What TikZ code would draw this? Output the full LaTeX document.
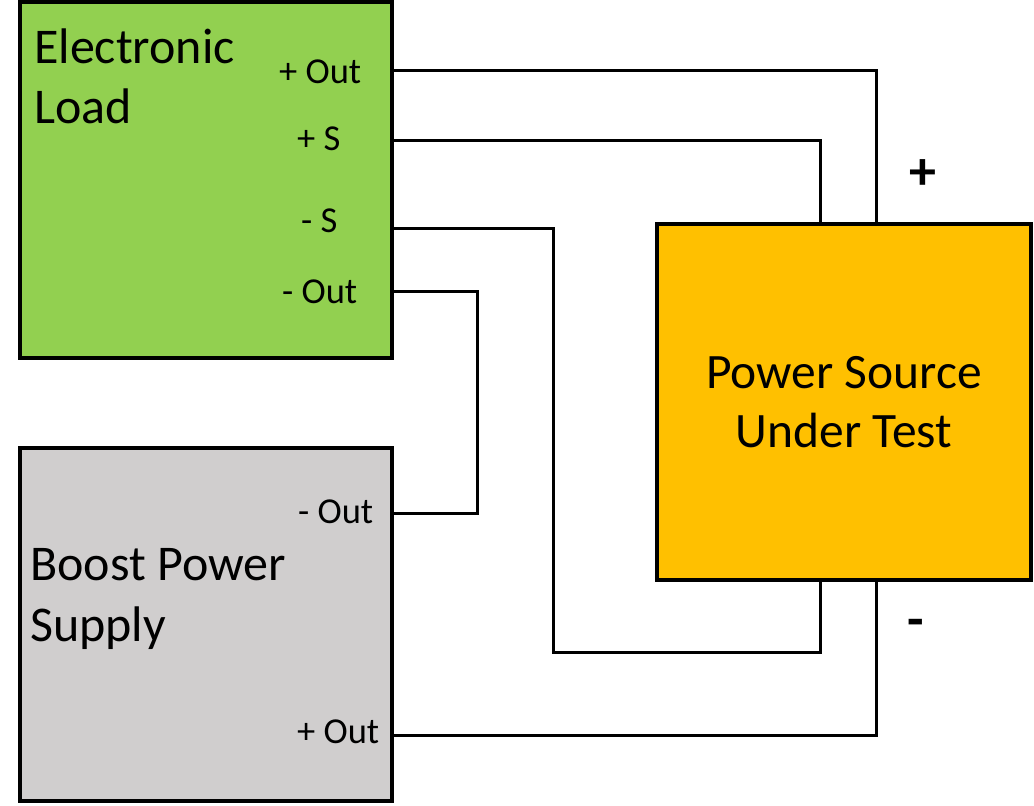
\documentclass[tikz,border=0pt]{standalone}
\usepackage{fontspec}
\setmainfont{Carlito}
\definecolor{loadgreen}{HTML}{92D050}
\definecolor{boostgray}{HTML}{D0CECE}
\definecolor{dutorange}{HTML}{FFC000}
\tikzset{
  unit/.style={rectangle,draw,line width=4pt,inner sep=0pt,outer sep=0pt},
  title/.style={inner sep=0pt,align=left,anchor=base west,font=\fontsize{50}{60}\selectfont},
  port/.style={inner sep=0pt,anchor=base west,font=\fontsize{36.5}{42}\selectfont},
  sign/.style={inner sep=0pt,font=\fontsize{54}{60}\selectfont\bfseries},
  wire/.style={line width=3pt}
}
\begin{document}
\begin{tikzpicture}[x=1pt,y=-1pt]
    \useasboundingbox (0,0) rectangle (1034,806);
    % units
    \node[unit,fill=loadgreen,minimum width=372pt,minimum height=356pt] (load) at (206,180) {};
    \node[unit,fill=boostgray,minimum width=372pt,minimum height=353pt] (boost) at (206,624.5) {};
    \node[unit,fill=dutorange,minimum width=374pt,minimum height=356pt,align=center,
          font=\fontsize{49.5}{59}\selectfont] (dut) at (844,402) {Power Source\\Under Test};
    % titles
    \node[title] (loadT1) at (34,63) {Electronic};
    \node[title] (loadT2) at (34,123) {Load};
    \node[title] (boostT1) at (30,580) {Boost Power};
    \node[title] (boostT2) at (30,641) {Supply};
    % ports
    \node[port] (loadPOutL) at (279,83) {+ Out};
    \node[port] (loadPSL) at (297,150) {+ S};
    \node[port] (loadNSL) at (301,232) {- S};
    \node[port] (loadNOutL) at (282,303) {- Out};
    \node[port] (boostNOutL) at (298,523) {- Out};
    \node[port] (boostPOutL) at (297,743) {+ Out};
    \node[sign] (plus) at (923,175) {+};
    \node[sign] (minus) at (916,628) {-};
    % pins
    \coordinate (loadPOut) at (392,70);
    \coordinate (loadPS) at (392,140);
    \coordinate (loadNS) at (392,228);
    \coordinate (loadNOut) at (392,291);
    \coordinate (boostNOut) at (394,513);
    \coordinate (boostPOut) at (392,735);
    \coordinate (dutPlus) at (876,224);
    \coordinate (dutPS) at (820,224);
    \coordinate (dutNS) at (820,580);
    \coordinate (dutMinus) at (876,580);
    % wires
    \draw[wire] (loadPOut) -| (dutPlus);
    \draw[wire] (loadPS) -| (dutPS);
    \draw[wire] (loadNS) -- (553,228) -- (553,652) -| (dutNS);
    \draw[wire] (loadNOut) -- (477,291) -- (477,513) -- (boostNOut);
    \draw[wire] (boostPOut) -| (dutMinus);
\end{tikzpicture}
\end{document}
